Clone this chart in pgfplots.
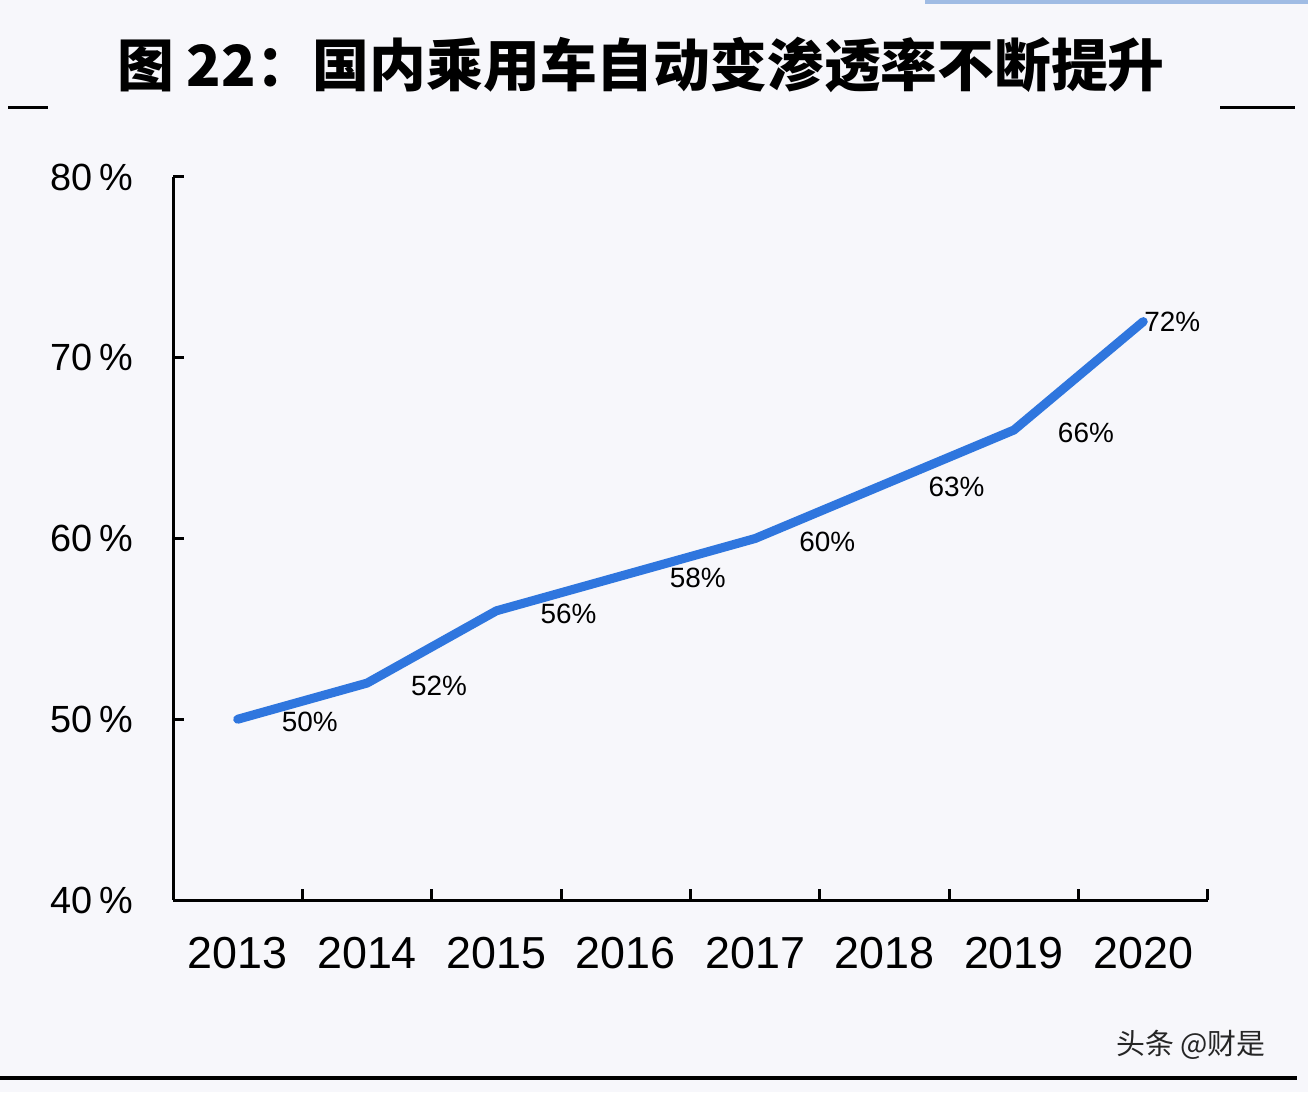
\documentclass[border=0pt]{standalone}
\usepackage{fontspec}
\setmainfont{Liberation Sans}
\newfontfamily\cjk{Noto Sans CJK SC}
\usepackage{pgfplots}
\pgfplotsset{compat=1.18}
\definecolor{bg}{RGB}{247,247,251}
\definecolor{lineblue}{RGB}{47,118,222}
\definecolor{topbar}{RGB}{160,188,228}

\begin{document}
\begin{tikzpicture}[x=1bp,y=1bp]
% background and frame pieces
\fill[bg] (0,0) rectangle (1308,1092);
\fill[topbar] (925,1088) rectangle (1308,1092);
\node[font=\cjk\bfseries\fontsize{57}{57}\selectfont, inner sep=0pt] at (641,1027)
  {图 22：国内乘用车自动变渗透率不断提升};
\draw[line width=3bp] (8,984) -- (48,984);
\draw[line width=3bp] (1220,984) -- (1295,984);
\draw[line width=4bp] (0,14) -- (1297,14);
\node[font=\cjk\fontsize{29}{29}\selectfont, inner sep=0pt, text=black!85] at (1191,47) {头条 @财是};

\begin{axis}[
    at={(173bp,192bp)}, anchor=south west,
    scale only axis, width=1035bp, height=723bp,
    xmin=-0.5, xmax=7.5, ymin=40, ymax=80,
    axis lines=left,
    axis line style={line width=3bp, -},
    clip=false,
    tick align=inside,
    tick style={line width=3bp, black},
    major tick length=11bp,
    xtick={0.5,1.5,...,7.5}, xticklabels={},
    extra x ticks={0,1,...,7},
    extra x tick labels={2013,2014,2015,2016,2017,2018,2019,2020},
    extra x tick style={major tick length=0pt},
    xticklabel style={font=\fontsize{45}{45}\selectfont, inner sep=0pt, anchor=center, yshift=-53bp},
    ytick={40,50,60,70,80},
    yticklabels={40\,\%,50\,\%,60\,\%,70\,\%,80\,\%},
    yticklabel style={font=\fontsize{38}{38}\selectfont, inner sep=0pt, anchor=east, xshift=-40bp},
]
\addplot[lineblue, line width=9bp, line join=round, line cap=round, mark=none]
  coordinates {(0,50) (1,52) (2,56) (3,58) (4,60) (5,63) (6,66) (7,72)};
\addplot[draw=none, mark=none, point meta=explicit symbolic,
    nodes near coords={\pgfplotspointmeta\%},
    every node near coord/.append style={font=\fontsize{28}{28}\selectfont, inner sep=0pt,
      anchor=center, xshift=72bp, yshift=-3bp}]
  coordinates {(0,50)[50] (1,52)[52] (2,56)[56] (3,58)[58] (4,60)[60] (5,63)[63] (6,66)[66]};
\addplot[draw=none, mark=none, point meta=explicit symbolic,
    nodes near coords={\pgfplotspointmeta\%},
    every node near coord/.append style={font=\fontsize{28}{28}\selectfont, inner sep=0pt,
      anchor=center, xshift=29bp, yshift=0bp}]
  coordinates {(7,72)[72]};
\end{axis}
\pgfresetboundingbox
\useasboundingbox (0,0) rectangle (1308,1092);
\end{tikzpicture}
\end{document}
